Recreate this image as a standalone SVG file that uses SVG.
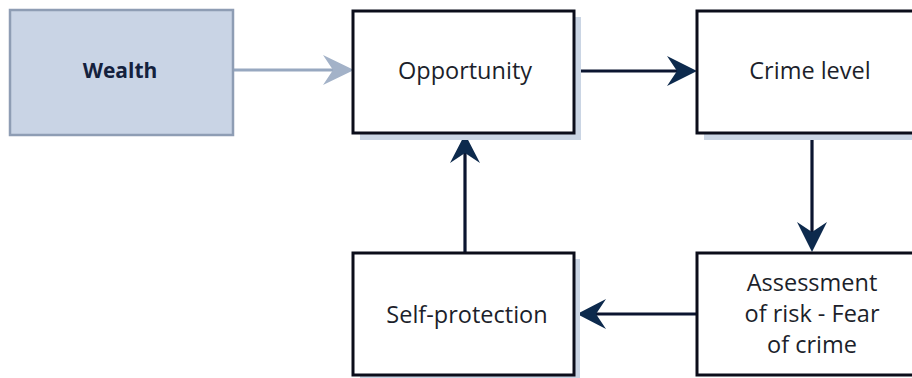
<svg xmlns="http://www.w3.org/2000/svg" width="912" height="378" viewBox="0 0 912 378">
<defs>
<style>
.box{fill:#ffffff;stroke:#0b0d1a;stroke-width:3}
.shadow{fill:#cad5e4}
.lbl{font-family:"Open Sans","Noto Sans","Liberation Sans",sans-serif;font-size:23.5px;fill:#1c1f2b;text-anchor:middle}
.wl{font-size:21px;font-weight:bold;fill:#14213d}
.conn{stroke:#0b1530;stroke-width:3.2;fill:none}
.head{fill:#0d2a4d}
</style>
</defs>
<rect width="912" height="378" fill="#ffffff"/>
<g id="connectors">
<line x1="233" y1="70" x2="340" y2="70" stroke="#97a8c0" stroke-width="3"/>
<path d="M354 70 L323 55 L333 70 L323 85 Z" fill="#a3b2c8"/>
<line class="conn" x1="575" y1="71" x2="685" y2="71"/>
<path class="head" d="M697 71 L667 56 L677 71 L667 86 Z"/>
<line class="conn" x1="812" y1="134" x2="812" y2="240"/>
<path class="head" d="M812 252 L797 222 L812 232 L827 222 Z"/>
<line class="conn" x1="697" y1="314" x2="590" y2="314"/>
<path class="head" d="M577 314 L606 299 L596 314 L606 329 Z"/>
<line class="conn" x1="465" y1="253" x2="465" y2="146"/>
<path class="head" d="M465 134 L450 163 L465 153 L480 163 Z"/>
</g>
<g id="wealth">
<rect x="10" y="10" width="223" height="125" fill="#c9d4e5" stroke="#8e9db4" stroke-width="2.5"/>
<text class="lbl wl" x="120" y="78">Wealth</text>
</g>
<g id="opportunity">
<rect class="shadow" x="360" y="17" width="221" height="123"/>
<rect class="box" x="353" y="11" width="221" height="122"/>
<text class="lbl" x="465" y="79">Opportunity</text>
</g>
<g id="crime-level">
<rect class="shadow" x="704" y="17" width="232" height="123"/>
<rect class="box" x="697" y="11" width="232" height="122"/>
<text class="lbl" x="810" y="79">Crime level</text>
</g>
<g id="self-protection">
<rect class="shadow" x="360" y="259" width="220" height="124"/>
<rect class="box" x="353" y="253" width="221" height="122"/>
<text class="lbl" x="467" y="323">Self-protection</text>
</g>
<g id="assessment">
<rect class="box" x="697" y="253" width="232" height="122"/>
<text class="lbl" x="812" y="291">Assessment</text>
<text class="lbl" x="812" y="322">of risk - Fear</text>
<text class="lbl" x="812" y="353">of crime</text>
</g>
</svg>
